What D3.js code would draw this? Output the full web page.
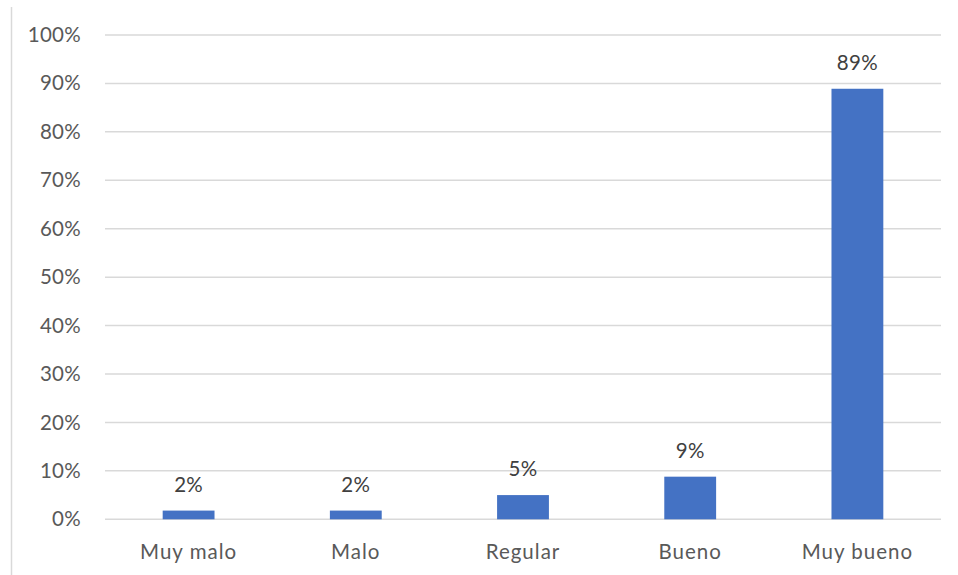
<!DOCTYPE html>
<html><head><meta charset="utf-8">
<script src="https://cdn.jsdelivr.net/npm/d3@7"></script>
<style>body{margin:0;background:#fff;}svg{display:block;font-family:Lato,"Open Sans",sans-serif;}</style>
</head><body>
<script>
const categories = ["Muy malo", "Malo", "Regular", "Bueno", "Muy bueno"];
const values = [0.018, 0.018, 0.05, 0.088, 0.889];
const labels = ["2%", "2%", "5%", "9%", "89%"];
const yTicks = [0, 0.1, 0.2, 0.3, 0.4, 0.5, 0.6, 0.7, 0.8, 0.9, 1.0];

const W = 958, H = 575;
const svg = d3.select("body").append("svg").attr("width", W).attr("height", H);

// left border line
svg.append("line").attr("x1", 11.5).attr("x2", 11.5).attr("y1", 7).attr("y2", H)
  .attr("stroke", "#d9d9d9").attr("stroke-width", 1.5);

const x = d3.scaleBand().domain(categories).range([105, 941]).paddingInner(0.69).paddingOuter(0.345);
const y = d3.scaleLinear().domain([0, 1]).range([519.3, 35]);

// gridlines
svg.append("g").selectAll("line").data(yTicks).join("line")
  .attr("x1", 105).attr("x2", 941)
  .attr("y1", d => y(d)).attr("y2", d => y(d))
  .attr("stroke", "#d9d9d9").attr("stroke-width", 1.5);

// y axis labels
const yAxis = d3.axisLeft(y).tickValues(yTicks).tickFormat(d3.format(".0%")).tickSize(0).tickPadding(0);
const gy = svg.append("g").attr("transform", "translate(81,0)").call(yAxis);
gy.select(".domain").remove();
gy.selectAll("text").attr("fill", "#595959").attr("font-size", 20.5).attr("font-family", "Lato,'Open Sans',sans-serif").attr("letter-spacing", 0.3);

// x axis labels
const xAxis = d3.axisBottom(x).tickSize(0).tickPadding(0);
const gx = svg.append("g").attr("transform", "translate(0,544)").call(xAxis);
gx.select(".domain").remove();
gx.selectAll("text").attr("fill", "#595959").attr("font-size", 20.5).attr("font-family", "Lato,'Open Sans',sans-serif").attr("dy", "0.71em").attr("letter-spacing", 1);

// bars
svg.append("g").selectAll("rect").data(categories).join("rect")
  .attr("x", d => x(d)).attr("width", x.bandwidth())
  .attr("y", (d, i) => y(values[i])).attr("height", (d, i) => y(0) - y(values[i]))
  .attr("fill", "#4472c4");

// data labels
svg.append("g").selectAll("text").data(categories).join("text")
  .attr("x", d => x(d) + x.bandwidth() / 2)
  .attr("y", (d, i) => y(values[i]) - 19)
  .attr("text-anchor", "middle")
  .attr("fill", "#404040").attr("font-size", 20.5).attr("letter-spacing", 0.3)
  .text((d, i) => labels[i]);
</script>
</body></html>
